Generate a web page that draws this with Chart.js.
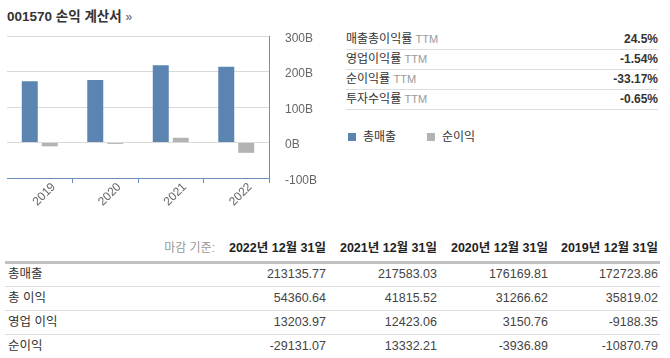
<!DOCTYPE html>
<html><head><meta charset="utf-8">
<script src="https://cdn.jsdelivr.net/npm/chart.js@4"></script>
<style>
body{margin:0;width:670px;height:358px;background:#fff;font-family:"Liberation Sans","Noto Sans CJK KR",Arial,sans-serif;color:#333;position:relative;overflow:hidden}
#title{position:absolute;left:7px;top:5px;font-size:13.5px;font-weight:bold;color:#333;white-space:nowrap}
#title span{font-weight:normal;font-size:12px;color:#555}
#chartBox{position:absolute;left:0;top:0;width:335px;height:215px}
.stat{position:absolute;left:346px;width:312px;height:19px;border-bottom:1px solid #ddd;font-size:12px;line-height:19px;white-space:nowrap}
.stat .ttm{font-size:11px;color:#999}
.stat .val{position:absolute;right:0;top:0;font-weight:bold;color:#333}
.leg{position:absolute;top:130px;font-size:12px;line-height:14px;color:#333}
.leg i{display:inline-block;width:8px;height:8px;margin-right:7px;vertical-align:0px}
.cell{position:absolute;font-size:12.5px;line-height:24px;height:24px;white-space:nowrap;color:#333}
.hline{position:absolute;left:5px;width:655px;height:1px;background:#ddd}
</style>
</head><body>
<div id="title">001570 손익 계산서 <span>»</span></div>
<div id="chartBox"><canvas id="c" width="335" height="215"></canvas></div>
<div id="stats"></div>
<div class="leg" style="left:348px"><i style="background:#5b84b1"></i>총매출</div>
<div class="leg" style="left:427px"><i style="background:#b3b3b3"></i>순이익</div>
<div id="tbl"></div>
<script>
// ---- data ----
const categories = ['2019', '2020', '2021', '2022'];
const revenue = [172723.86, 176169.81, 217583.03, 213135.77];
const grossProfit = [35819.02, 31266.62, 41815.52, 54360.64];
const operatingIncome = [-9188.35, 3150.76, 12423.06, 13203.97];
const netIncome = [-10870.79, -3936.89, 13332.21, -29131.07];
const yTickValues = [-100, 0, 100, 200, 300];
const seriesNames = ['총매출', '순이익'];
const statLabels = ['매출총이익률', '영업이익률', '순이익률', '투자수익률'];
const statValues = ['24.5%', '-1.54%', '-33.17%', '-0.65%'];
const tableDates = ['2022년 12월 31일', '2021년 12월 31일', '2020년 12월 31일', '2019년 12월 31일'];
const tableRowNames = ['총매출', '총 이익', '영업 이익', '순이익'];

const FONT = '"Liberation Sans","Noto Sans CJK KR",Arial,sans-serif';
const axisBlue = '#6b90bb';

new Chart(document.getElementById('c'), {
  type: 'bar',
  data: {
    labels: categories,
    datasets: [
      {label: seriesNames[0], data: revenue.map(v => v / 1000), backgroundColor: '#5b84b1', categoryPercentage: 0.61, barPercentage: 0.8},
      {label: seriesNames[1], data: netIncome.map(v => v / 1000), backgroundColor: '#b3b3b3', categoryPercentage: 0.61, barPercentage: 0.8}
    ]
  },
  options: {
    responsive: false, animation: false, maintainAspectRatio: false,
    layout: {padding: {left: 7, top: 36, right: 0, bottom: 0}},
    plugins: {legend: {display: false}, tooltip: {enabled: false}},
    scales: {
      x: {
        grid: {drawOnChartArea: false, drawTicks: true, tickLength: 5,
               color: ctx => ctx.index === 0 ? 'rgba(0,0,0,0)' : axisBlue},
        border: {color: axisBlue},
        ticks: {minRotation: 45, maxRotation: 45, autoSkip: false, labelOffset: 14, padding: -3,
                color: '#666', font: {size: 12, family: FONT}},
        afterFit: s => { s.height = 37; }
      },
      y: {
        position: 'right', min: -100, max: 300,
        afterBuildTicks: s => { s.ticks = yTickValues.map(v => ({value: v})); },
        grid: {color: '#d9d9d9', drawTicks: false},
        border: {color: axisBlue},
        ticks: {padding: 16, labelOffset: 2.5, color: '#666', font: {size: 12, family: FONT}, callback: v => v + 'B'},
        afterFit: s => { s.width = 66; }
      }
    }
  }
});

// stats table
const stats = document.getElementById('stats');
statLabels.forEach((l, i) => {
  const d = document.createElement('div');
  d.className = 'stat';
  d.style.top = (30 + 20 * i) + 'px';
  d.innerHTML = l + ' <span class="ttm">TTM</span><span class="val">' + statValues[i] + '</span>';
  stats.appendChild(d);
});

// bottom table
const tbl = document.getElementById('tbl');
const rights = [326, 437, 548, 658];
function cell(text, top, opts) {
  const d = document.createElement('div');
  d.className = 'cell';
  d.textContent = text;
  d.style.top = top + 'px';
  if (opts.right !== undefined) d.style.right = (670 - opts.right) + 'px';
  if (opts.left !== undefined) d.style.left = opts.left + 'px';
  if (opts.bold) d.style.fontWeight = 'bold';
  if (opts.color) d.style.color = opts.color;
  if (opts.size) d.style.fontSize = opts.size + 'px';
  tbl.appendChild(d);
}
cell('마감 기준:', 236, {right: 215, color: '#999', size: 12});
tableDates.forEach((t, i) => cell(t, 236, {right: rights[i], bold: true, color: '#222'}));
const thick = document.createElement('div');
thick.className = 'hline'; thick.style.top = '261px'; thick.style.height = '3px'; thick.style.background = '#c2c2c2';
tbl.appendChild(thick);
const rowsData = [revenue, grossProfit, operatingIncome, netIncome];
rowsData.forEach((arr, r) => {
  const top = 262 + 24 * r;
  cell(tableRowNames[r], top, {left: 8});
  arr.slice().reverse().forEach((v, i) => cell(v.toFixed(2), top, {right: rights[i], color: '#444'}));
  if (r < 3) {
    const h = document.createElement('div');
    h.className = 'hline'; h.style.top = (top + 24) + 'px';
    tbl.appendChild(h);
  }
});
</script>
</body></html>
